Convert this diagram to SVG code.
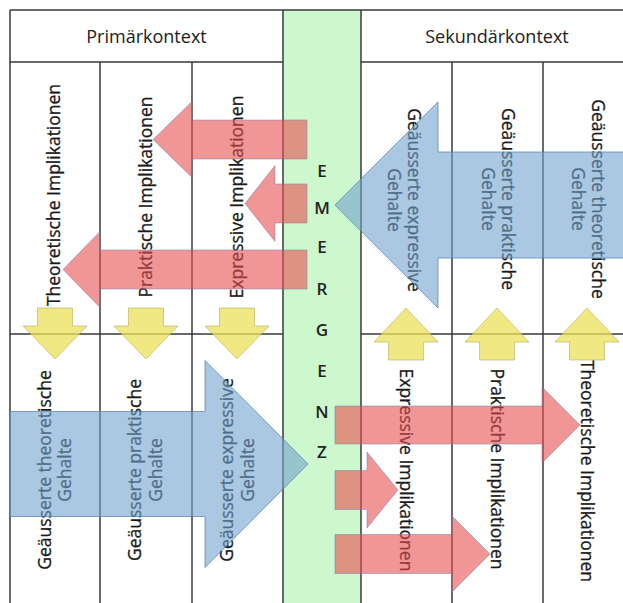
<svg xmlns="http://www.w3.org/2000/svg" width="623" height="603" viewBox="0 0 623 603">
<style>
.ln{stroke:#3a3a3a;stroke-width:1.5;fill:none}
.hd{font-family:"Open Sans","DejaVu Sans",sans-serif;font-size:18px;fill:#222;text-anchor:middle}
.lb{font-family:"Open Sans","DejaVu Sans",sans-serif;font-size:17.5px;fill:#1a1a1a;stroke:#1a1a1a;stroke-width:0.3;text-anchor:middle}
.em{font-family:"Open Sans","DejaVu Sans",sans-serif;font-size:17px;font-weight:600;fill:#222;text-anchor:middle}
.red{fill:rgb(230,80,80);fill-opacity:0.6;stroke:rgb(120,130,170);stroke-opacity:0.5;stroke-width:1}
.blue{fill:rgb(113,163,205);fill-opacity:0.6;stroke:rgb(80,125,170);stroke-opacity:0.7;stroke-width:1}
.yel{fill:rgb(235,225,90);fill-opacity:0.75;stroke:rgb(180,175,90);stroke-opacity:0.6;stroke-width:1}
</style>
<rect width="623" height="603" fill="#fff"/>
<g id="emergenz-column">
<rect x="283" y="10" width="78" height="593" fill="#cdf7cd"/>
<text class="em" x="322" y="177">E</text>
<text class="em" x="322" y="213.5">M</text>
<text class="em" x="322" y="252.5">E</text>
<text class="em" x="322" y="294.5">R</text>
<text class="em" x="322" y="335.5">G</text>
<text class="em" x="322" y="376.5">E</text>
<text class="em" x="322" y="417.5">N</text>
<text class="em" x="322" y="457.5">Z</text>
</g>
<g id="table">
<path class="ln" d="M10,10H623M10,62H283M361,62H623M10,334H283M361,334H623M10,10V603M100,62V603M192,62V603M283,10V603M361,10V603M452,62V603M543,62V603"/>
</g>
<g id="primaerkontext">
<text class="hd" x="146.5" y="43">Primärkontext</text>
<text class="lb" transform="translate(60,195) rotate(-90)">Theoretische Implikationen</text>
<text class="lb" transform="translate(152,197) rotate(-90)">Praktische Implikationen</text>
<text class="lb" transform="translate(243,197) rotate(-90)">Expressive Implikationen</text>
<text class="lb" transform="translate(50.5,470) rotate(-90)"><tspan x="0">Geäusserte theoretische</tspan><tspan x="0" dy="20.5">Gehalte</tspan></text>
<text class="lb" transform="translate(141,470) rotate(-90)"><tspan x="0">Geäusserte praktische</tspan><tspan x="0" dy="20.5">Gehalte</tspan></text>
<text class="lb" transform="translate(233,470) rotate(-90)"><tspan x="0">Geäusserte expressive</tspan><tspan x="0" dy="20.5">Gehalte</tspan></text>
</g>
<g id="sekundaerkontext">
<text class="hd" x="497" y="43">Sekundärkontext</text>
<text class="lb" transform="translate(408,200) rotate(90)"><tspan x="0">Geäusserte expressive</tspan><tspan x="0" dy="20.5">Gehalte</tspan></text>
<text class="lb" transform="translate(502,199) rotate(90)"><tspan x="0">Geäusserte praktische</tspan><tspan x="0" dy="20.5">Gehalte</tspan></text>
<text class="lb" transform="translate(592,199) rotate(90)"><tspan x="0">Geäusserte theoretische</tspan><tspan x="0" dy="20.5">Gehalte</tspan></text>
<text class="lb" transform="translate(400,470) rotate(90)">Expressive Implikationen</text>
<text class="lb" transform="translate(490.5,469) rotate(90)">Praktische Implikationen</text>
<text class="lb" transform="translate(580.5,471) rotate(90)">Theoretische Implikationen</text>
</g>
<g id="connectors">
<path class="red" d="M307,120H192V101.5L153,139.5L192,177.5V159H307Z"/>
<path class="red" d="M307,184H275V165.5L245,203.5L275,241.5V223H307Z"/>
<path class="red" d="M307,250H100V231.5L63,269.5L100,307.5V289H307Z"/>
<path class="blue" d="M640,152H438V102L335,205L438,308V258H640Z"/>
<path class="blue" d="M10,411.5H205V360.5L308,464L205,567.5V516.5H10Z"/>
<path class="red" d="M335,406H542V387L580,425L542,463V444H335Z"/>
<path class="red" d="M335,470.5H367V452L398,490L367,528V509.5H335Z"/>
<path class="red" d="M335,534.5H452V516L490,554L452,592V573.5H335Z"/>
<path class="yel" d="M37.5,308H72.5V326H87L55,359L23,326H37.5Z"/>
<path class="yel" d="M128.5,308H163.5V326H178L146,359L114,326H128.5Z"/>
<path class="yel" d="M219.5,308H254.5V326H269L237,359L205,326H219.5Z"/>
<path class="yel" d="M388.5,360H423.5V342H438L406,308L374,342H388.5Z"/>
<path class="yel" d="M479.5,360H514.5V342H529L497,308L465,342H479.5Z"/>
<path class="yel" d="M569.5,360H604.5V342H619L587,308L555,342H569.5Z"/>
</g>
</svg>
